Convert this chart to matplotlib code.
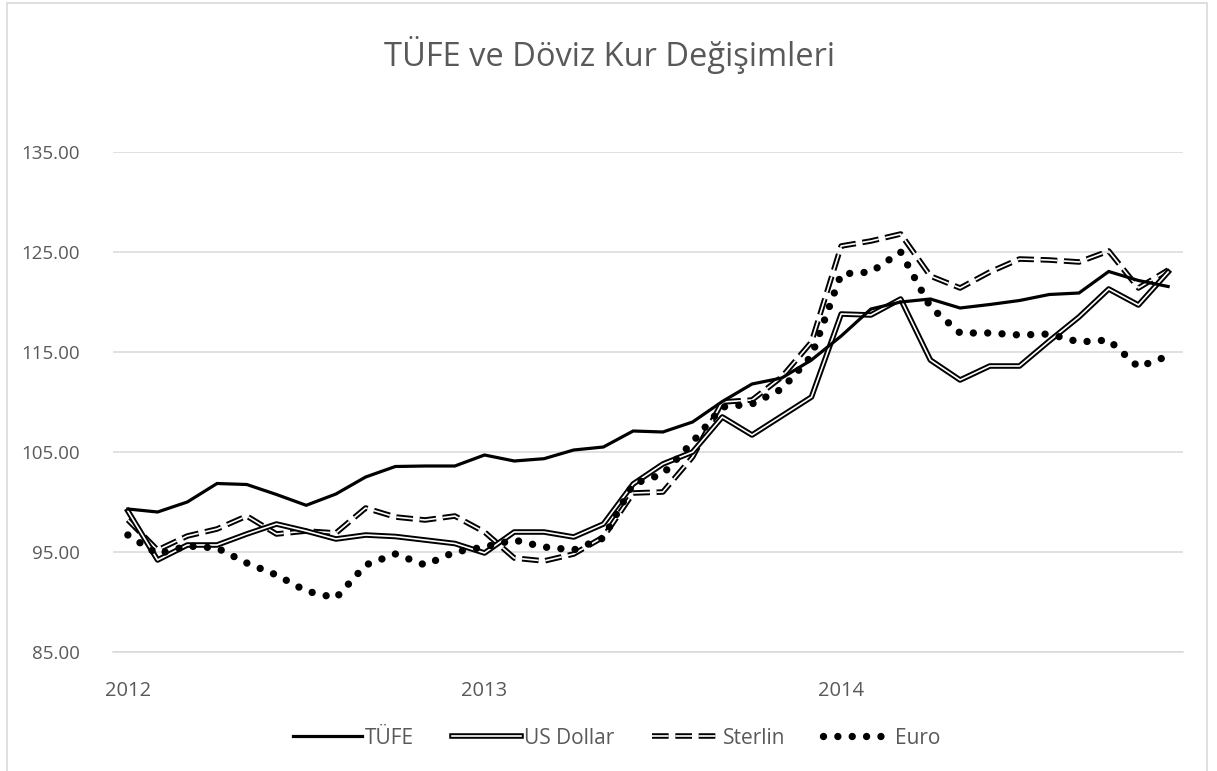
import matplotlib
matplotlib.use("Agg")
import matplotlib.pyplot as plt
import matplotlib.patheffects as pe
from matplotlib.patches import Rectangle

# ---- data ----
months = list(range(36))
tick_positions = [0, 12, 24]
tick_labels = ["2012", "2013", "2014"]

tufe = [99.3, 99.0, 100.0, 101.85, 101.75, 100.75, 99.67, 100.8, 102.5, 103.55, 103.6, 103.6,
        104.7, 104.1, 104.33, 105.2, 105.5, 107.1, 107.0, 108.0, 110.05, 111.8, 112.4, 114.2,
        116.6, 119.3, 120.0, 120.3, 119.4, 119.75, 120.15, 120.75, 120.9, 123.05, 122.15, 121.55]
usd = [99.1, 94.2, 95.7, 95.7, 96.8, 97.8, 97.1, 96.3, 96.7, 96.55, 96.2, 95.85,
       94.9, 97.0, 97.0, 96.5, 97.8, 101.8, 103.8, 105.0, 108.5, 106.7, 108.6, 110.5,
       118.8, 118.7, 120.3, 114.2, 112.2, 113.6, 113.6, 116.1, 118.5, 121.3, 119.7, 123.0]
gbp = [98.2, 95.2, 96.6, 97.3, 98.6, 96.8, 97.1, 96.9, 99.4, 98.5, 98.2, 98.6,
       97.0, 94.4, 94.1, 94.8, 96.5, 100.9, 101.0, 104.5, 110.0, 110.2, 112.5, 116.0,
       125.6, 126.1, 126.8, 122.6, 121.4, 123.0, 124.3, 124.2, 124.0, 125.1, 121.4, 123.2]
eur = [96.7, 94.8, 95.6, 95.4, 93.9, 92.7, 91.1, 90.4, 93.7, 94.8, 93.7, 95.0,
       95.5, 96.2, 95.5, 95.2, 96.4, 101.8, 102.8, 106.0, 109.5, 109.8, 111.3, 114.6,
       122.8, 123.0, 125.0, 119.5, 116.9, 116.9, 116.7, 116.8, 116.0, 116.2, 113.5, 114.6]

labels = ["TÜFE", "US Dollar", "Sterlin", "Euro"]
yticks = [85, 95, 105, 115, 125, 135]

plt.rcParams['font.family'] = ['Open Sans', 'DejaVu Sans']

W, H = 1217, 771
fig = plt.figure(figsize=(W / 100, H / 100), dpi=100)
fig.patch.set_facecolor("white")

# chart area border
fig.patches.append(Rectangle((7 / W, -0.01), (1207 - 7) / W, 1.01 - 3 / H,
                             transform=fig.transFigure, fill=False,
                             edgecolor="#d9d9d9", linewidth=1.2))

ax = fig.add_axes([113 / W, 1 - 652 / H, (1183 - 113) / W, (652 - 152) / H])

grey = "#595959"
ax.plot(months, tufe, color="black", lw=2.3, solid_joinstyle="miter", label=labels[0], zorder=5)

ax.plot(months, usd, color="white", lw=1.2, label=labels[1], zorder=4,
        path_effects=[pe.Stroke(linewidth=4.0, foreground="black"), pe.Normal()])

ax.plot(months, gbp, color="white", lw=1.2, linestyle=(0, (10, 4)), label=labels[2], zorder=3,
        path_effects=[pe.Stroke(linewidth=4.0, foreground="black"), pe.Normal()])

ax.plot(months, eur, color="black", lw=5.3, linestyle=(0, (0.001, 1.95)),
        dash_capstyle="round", label=labels[3], zorder=6)

ax.set_xlim(-0.5, 35.5)
ax.set_ylim(85, 135)
ax.set_yticks(yticks)
ax.set_yticklabels([f"{v:.2f}" for v in yticks])
ax.set_xticks(tick_positions)
ax.set_xticklabels(tick_labels)
ax.tick_params(axis="both", length=0, labelcolor=grey)
ax.tick_params(axis="y", pad=24, labelsize=13.5)
ax.tick_params(axis="x", pad=21, labelsize=14.5)
ax.yaxis.grid(True, color="#d9d9d9", lw=1.1)
ax.set_axisbelow(True)
for s in ["top", "right", "left"]:
    ax.spines[s].set_visible(False)
ax.spines["bottom"].set_color("#d9d9d9")
ax.spines["bottom"].set_linewidth(1.1)

fig.text(610 / W, 1 - 55 / H, "TÜFE ve Döviz Kur Değişimleri", ha="center", va="center",
         fontsize=23.5, color=grey)

leg = fig.legend(loc="center", bbox_to_anchor=(617 / W, 1 - 738 / H), ncol=4, frameon=False,
                 fontsize=15, handlelength=3.3, handletextpad=0.15, columnspacing=1.8)
for t in leg.get_texts():
    t.set_color(grey)

fig.savefig("out.png", dpi=100)
